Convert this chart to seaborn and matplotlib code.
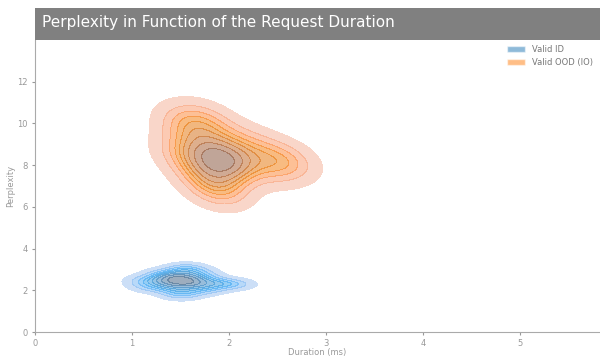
import matplotlib
matplotlib.use("Agg")
import matplotlib.pyplot as plt
import seaborn as sns
import pandas as pd
from matplotlib.patches import Rectangle, Patch

# --- data ---
id_duration = [1.55, 1.45, 1.65, 1.35, 1.75, 1.25, 1.50, 1.60, 1.40, 1.70, 1.30, 1.85,
               1.15, 1.55, 1.45, 1.95, 2.10, 1.50, 1.62, 1.38, 1.10, 1.80, 1.58, 1.48]
id_perplexity = [2.40, 2.60, 2.20, 2.25, 2.60, 2.50, 2.95, 1.90, 2.00, 2.85, 2.80, 2.35,
                 2.15, 2.50, 2.30, 2.30, 2.30, 2.70, 2.40, 2.55, 2.45, 2.05, 3.10, 1.75]
ood_duration = [1.90, 1.85, 1.95, 1.80, 2.00, 1.88, 1.75, 2.05, 1.70, 1.92, 1.82, 2.10,
                1.65, 1.60, 1.50, 1.48, 1.55, 1.70, 2.20, 2.35, 2.50, 2.60, 2.70, 2.45,
                1.90, 2.00, 1.78, 1.65, 2.15, 1.95, 1.80, 1.45, 2.30, 1.60, 1.88, 1.98,
                2.55, 1.72, 1.82, 1.95]
ood_perplexity = [8.2, 8.4, 8.0, 8.6, 8.3, 7.9, 8.9, 7.8, 9.3, 8.7, 7.6, 8.5,
                  9.7, 10.1, 10.3, 9.6, 8.8, 8.0, 8.0, 8.3, 8.1, 8.0, 8.1, 7.6,
                  6.9, 7.2, 7.2, 7.5, 9.2, 9.6, 10.1, 8.5, 9.0, 8.4, 8.1, 8.5,
                  8.6, 10.4, 6.7, 6.6]
groups = ["Valid ID", "Valid OOD (IO)"]
colors = ["#1f77b4", "#ff7f0e"]

df_id = pd.DataFrame({"Duration (ms)": id_duration, "Perplexity": id_perplexity})
df_ood = pd.DataFrame({"Duration (ms)": ood_duration, "Perplexity": ood_perplexity})

sns.set_style("white")
plt.rcParams["font.family"] = ["DejaVu Sans"]
fig = plt.figure(figsize=(6.0, 3.57), dpi=100)
ax = fig.add_axes([35 / 600, 1 - 332 / 357, 565 / 600, (332 - 40) / 357])

sns.kdeplot(data=df_id, x="Duration (ms)", y="Perplexity", fill=True, alpha=0.5,
            color=colors[0], ax=ax, bw_adjust=1.0)
sns.kdeplot(data=df_ood, x="Duration (ms)", y="Perplexity", fill=True, alpha=0.5,
            color=colors[1], ax=ax, bw_adjust=1.2)

ax.set_xlim(0, 5.82)
ax.set_ylim(0, 14)
ax.set_xticks([0, 1, 2, 3, 4, 5])
ax.set_yticks([0, 2, 4, 6, 8, 10, 12])
grey = "#999999"
for s in ["top", "right"]:
    ax.spines[s].set_visible(False)
for s in ["left", "bottom"]:
    ax.spines[s].set_color("#aaaaaa")
ax.tick_params(axis="both", colors=grey, labelsize=6, length=2.5, width=0.8, direction="out",
               left=True, bottom=True, pad=2.5)
ax.set_xlabel("Duration (ms)", fontsize=6, color=grey)
ax.xaxis.set_label_coords(0.5, -0.056)
ax.set_ylabel("Perplexity", fontsize=6, color=grey)
ax.yaxis.set_label_coords(-0.036, 0.5)

handles = [Patch(facecolor=colors[0], alpha=0.5, label=groups[0]),
           Patch(facecolor=colors[1], alpha=0.5, label=groups[1])]
leg = ax.legend(handles=handles, loc="upper right", frameon=False, fontsize=6,
                bbox_to_anchor=(1.0, 1.01), handlelength=2.2)
for t in leg.get_texts():
    t.set_color("#777777")

# title bar
fig.patches.append(Rectangle((35 / 600, 1 - 40 / 357), 565 / 600, 32 / 357,
                             transform=fig.transFigure, facecolor="#808080",
                             edgecolor="none", zorder=0))
fig.text(42 / 600, 1 - 22 / 357, "Perplexity in Function of the Request Duration",
         color="white", fontsize=11, va="center", ha="left")

fig.savefig("out.png", dpi=100)
